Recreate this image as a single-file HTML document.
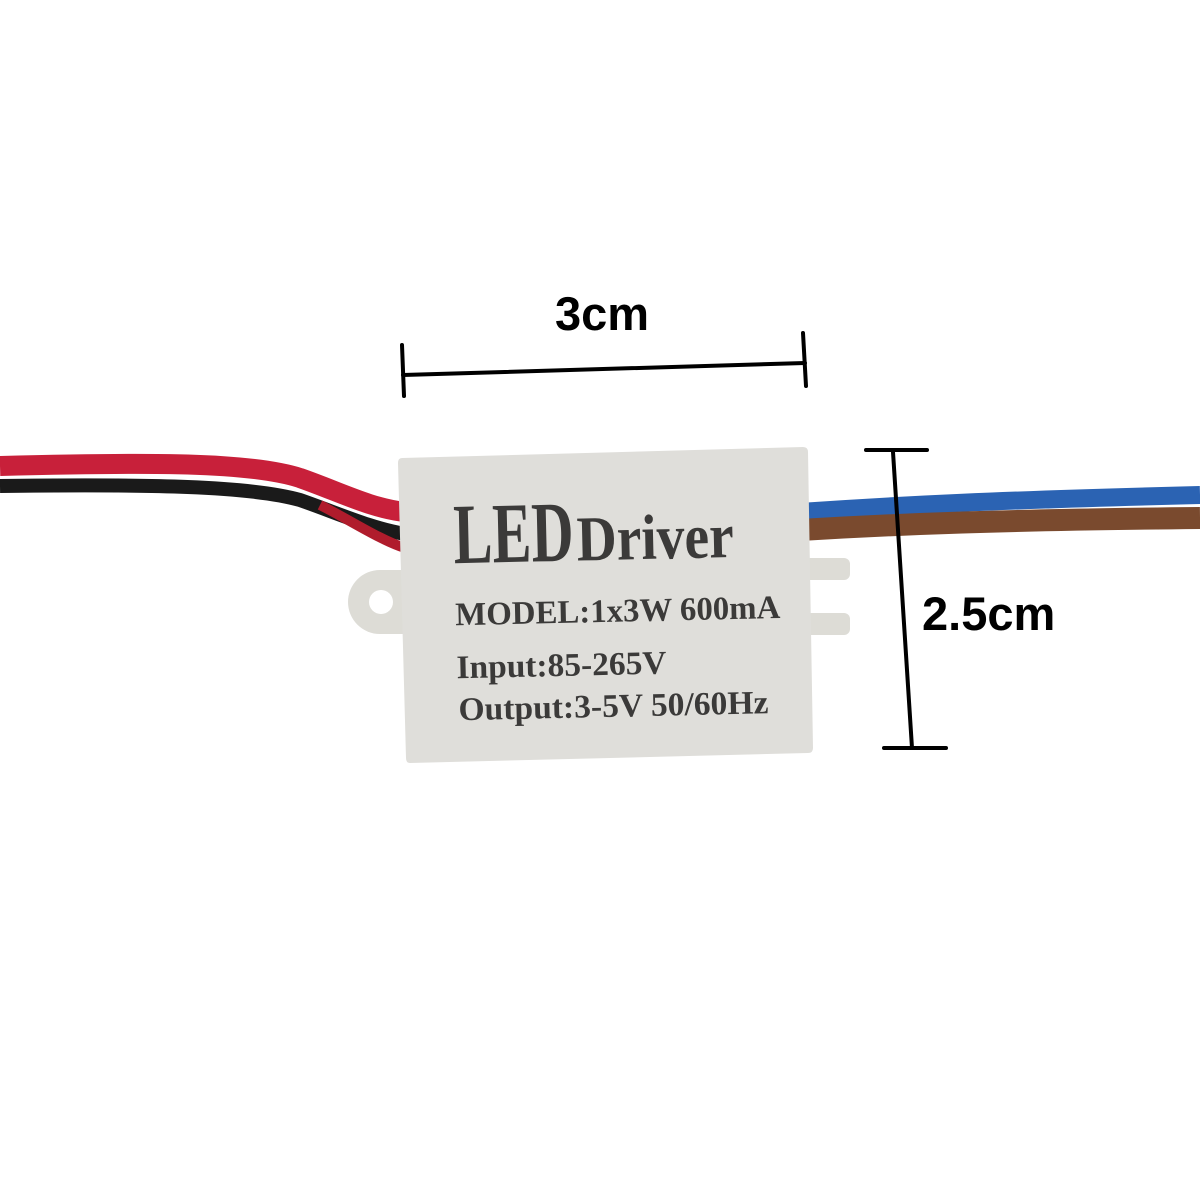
<!DOCTYPE html>
<html><head><style>html,body{margin:0;padding:0;background:#fff}svg{display:block}</style></head>
<body>
<svg width="1200" height="1200" viewBox="0 0 1200 1200" xmlns="http://www.w3.org/2000/svg">
<rect width="1200" height="1200" fill="#fff"/>
<path d="M0,466 C150,462 250,462 300,478 C340,492 370,508 405,512" stroke="#c8203a" stroke-width="20" fill="none"/>
<path d="M0,486 C150,484 250,486 300,500 C340,514 370,528 405,534" stroke="#1a1a1a" stroke-width="14" fill="none"/>
<path d="M320,505 C350,520 380,540 405,548" stroke="#b01c2c" stroke-width="10" fill="none"/>
<path d="M800,512 C900,505 1000,500 1200,495" stroke="#2b63b3" stroke-width="18" fill="none"/>
<path d="M800,530 C900,524 1000,520 1200,518" stroke="#7a4a2e" stroke-width="22" fill="none"/>
<rect x="790" y="558" width="60" height="22" rx="6" fill="#dddcd6"/>
<rect x="790" y="613" width="60" height="22" rx="6" fill="#dddcd6"/>
<path d="M405,570 L380,570 A32,32 0 0 0 380,634 L405,634 Z" fill="#dddcd6"/>
<circle cx="381" cy="602" r="12" fill="#fff"/>
<path d="M402,458 L803,447 Q808,447 808,452 L813,748 Q813,753 808,753 L410,763 Q406,763 406,758 L398,463 Q398,458 402,458 Z" fill="#dfdeda"/>
<g transform="rotate(-1.3 600 600)" fill="#3b3a39" font-family="Liberation Serif, serif" font-weight="bold">
<text x="455" y="560" font-size="86" textLength="120" lengthAdjust="spacingAndGlyphs">LED</text>
<text x="578" y="560" font-size="64" textLength="157" lengthAdjust="spacingAndGlyphs">Driver</text>
<text x="455" y="622" font-size="33" textLength="325" lengthAdjust="spacingAndGlyphs">MODEL:1x3W 600mA</text>
<text x="455" y="675" font-size="33" textLength="210" lengthAdjust="spacingAndGlyphs">Input:85-265V</text>
<text x="456" y="717" font-size="33" textLength="310" lengthAdjust="spacingAndGlyphs">Output:3-5V 50/60Hz</text>
</g>
<g stroke="#000" stroke-width="4" stroke-linecap="round">
<line x1="403" y1="375" x2="805" y2="363"/>
<line x1="402" y1="345" x2="404" y2="396"/>
<line x1="803" y1="333" x2="806" y2="386"/>
<line x1="893" y1="452" x2="912" y2="748"/>
<line x1="866" y1="450" x2="927" y2="450"/>
<line x1="884" y1="748" x2="946" y2="748"/>
</g>
<g font-family="Liberation Sans, sans-serif" font-weight="bold" font-size="47" fill="#000">
<text x="555" y="330">3cm</text>
<text x="922" y="630">2.5cm</text>
</g>
</svg>
</body></html>
